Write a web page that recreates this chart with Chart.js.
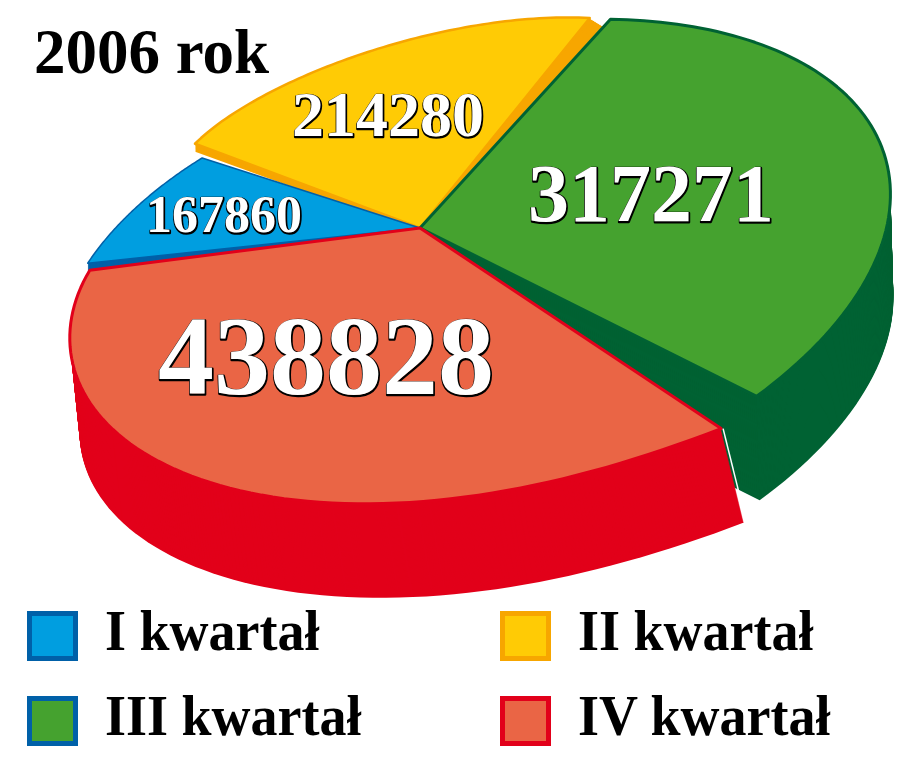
<!DOCTYPE html>
<html>
<head>
<meta charset="utf-8">
<title>2006 rok</title>
<script src="https://cdn.jsdelivr.net/npm/chart.js@4"></script>
<style>
    html, body { margin: 0; padding: 0; background: #fff; }
    #wrap { position: relative; width: 920px; height: 761px; overflow: hidden; font-family: "Liberation Serif", serif; font-weight: bold; color: #000; }
    #pie { position: absolute; left: 0; top: 0; }
    #title { position: absolute; left: 34px; top: 17px; font-size: 63px; line-height: 70px; }
    .item { position: absolute; height: 70px; line-height: 70px; font-size: 54px; white-space: nowrap; }
    .item i { position: absolute; left: 0; top: 10px; width: 41px; height: 40px; border: 5px solid; }
    .item span { position: absolute; left: 78px; top: -4px; transform: scale(1, 1.07); transform-origin: 0 50px; }
</style>
</head>
<body>
<div id="wrap">
    <canvas id="pie" width="920" height="761"></canvas>
    <div id="title">2006 rok</div>
    <div id="legend"></div>
</div>
<script>
const categories = ['I kwartał', 'II kwartał', 'III kwartał', 'IV kwartał'];
const values = [167860, 214280, 317271, 438828];

const faceColors = ['#009ee0', '#ffcb05', '#45a22f', '#ea6545'];
const sideColors = ['#0060a8', '#f7a600', '#006233', '#e2001a'];
const legendBorders = ['#0060a8', '#f7a600', '#0060a8', '#e2001a'];

// the tilted disc: hub is off centre because of the perspective in the picture
const hub = { x: 420, y: 228 };
const disc = { x: 477, y: 260, ux: 411, uy: -70, vy: 232.7 };
// hand fit, degrees added to the edges of each slice (start, end)
const edgeNudge = [[6.5, -12.1], [-9.2, -2.9], [0.6, 8.6], [14.7, 4.3]];
// hand fit of the rim: base reach, bump at start, bump at end, sharpness
const reachFit = [[0.982, 0, -0.078, 1], [1.012, -0.032, -0.017, 8], [1, -0.01, 0.035, 4], [1, 0.066, -0.034, 8]];
const sideShift = [[0, 8], [7.5, 8], [3, 104], [16.8, 94]];
const sideStretch = [0, 0.0325, 0, 0.02];
const rimWidth = [1.5, 2.5, 3, 3];
const drawOrder = [1, 0, 2, 3];

const labelSpots = [[224, 232, 52], [388, 136, 64], [651, 221, 82], [326, 394, 112]];

const legendSpots = [[27, 611], [500, 611], [27, 696], [500, 696]];

const hubU = (hub.x - disc.x) / disc.ux;
const hubV = (hub.y - disc.y - disc.uy * hubU) / disc.vy;

function rimPoint(angle, i, s) {
    const du = Math.cos(angle), dv = Math.sin(angle);
    const b = hubU * du + hubV * dv;
    const [base, startBump, endBump, pow] = reachFit[i];
    const reach = base + startBump * Math.pow(1 - s, pow) + endBump * Math.pow(s, pow);
    const r = (-b + Math.sqrt(b * b - hubU * hubU - hubV * hubV + 1)) * reach;
    return {
        x: hub.x + r * disc.ux * du,
        y: hub.y + r * (disc.uy * du + disc.vy * dv)
    };
}

function slicePoint(arc, i, s) {
    const a = arc.startAngle + s * (arc.endAngle - arc.startAngle)
        + (Math.PI / 180) * (edgeNudge[i][0] * (1 - s) + edgeNudge[i][1] * s);
    return rimPoint(a, i, s);
}

function slicePath(ctx, arc, i, dx, dy, fx) {
    ctx.beginPath();
    ctx.moveTo(hub.x + dx, hub.y + dy);
    for (let n = 0; n <= 80; n++) {
        const p = slicePoint(arc, i, n / 80);
        ctx.lineTo(hub.x + fx * (p.x - hub.x) + dx, p.y + dy);
    }
    ctx.closePath();
}

const tiltedPie = {
    id: 'tiltedPie',
    beforeDatasetsDraw(chart) {
        const ctx = chart.ctx;
        const arcs = chart.getDatasetMeta(0).data;
        ctx.save();
        ctx.lineJoin = 'round';
        drawOrder.forEach(i => {
            const arc = arcs[i];
            const [sx, sy] = sideShift[i];
            const steps = Math.max(Math.abs(sy), 1);
            ctx.fillStyle = sideColors[i];
            for (let k = steps; k >= 1; k--) {
                const f = k / steps;
                slicePath(ctx, arc, i, sx * f, sy * f, 1 + sideStretch[i] * f);
                ctx.fill();
            }
            slicePath(ctx, arc, i, 0, 0, 1);
            ctx.fillStyle = arc.options.backgroundColor;
            ctx.fill();
            ctx.strokeStyle = sideColors[i];
            ctx.lineWidth = rimWidth[i];
            ctx.stroke();
        });

        // thin white seam where the red slice leaves the green one
        const seam = slicePoint(arcs[3], 3, 0);
        ctx.strokeStyle = '#fff';
        ctx.lineWidth = 1.5;
        ctx.beginPath();
        ctx.moveTo(seam.x + 2, seam.y);
        ctx.lineTo(seam.x + 2 + sideShift[3][0] + sideStretch[3] * (seam.x - hub.x) - 4, seam.y + sideShift[3][1] - 18);
        ctx.stroke();

        // value labels
        ctx.textAlign = 'center';
        ctx.textBaseline = 'alphabetic';
        values.forEach((v, i) => {
            const [x, y, size] = labelSpots[i];
            ctx.font = 'bold ' + size + 'px "Liberation Serif", serif';
            ctx.strokeStyle = '#000';
            ctx.lineWidth = 2.5;
            ctx.strokeText(String(v), x + 0.5, y + 0.5);
            ctx.fillStyle = '#fff';
            ctx.fillText(String(v), x, y);
        });
        ctx.restore();
        return false;
    }
};

new Chart(document.getElementById('pie').getContext('2d'), {
    type: 'pie',
    data: {
        labels: categories,
        datasets: [{ data: values, backgroundColor: faceColors, borderWidth: 0 }]
    },
    options: {
        responsive: false,
        animation: false,
        rotation: 270,
        events: [],
        plugins: { legend: { display: false }, tooltip: { enabled: false } }
    },
    plugins: [tiltedPie]
});

const legend = document.getElementById('legend');
categories.forEach((name, i) => {
    const item = document.createElement('div');
    item.className = 'item';
    item.style.left = legendSpots[i][0] + 'px';
    item.style.top = (legendSpots[i][1] - 10) + 'px';
    item.innerHTML = `<i style="background:${faceColors[i]};border-color:${legendBorders[i]}"></i><span>${name}</span>`;
    legend.appendChild(item);
});
</script>
</body>
</html>
